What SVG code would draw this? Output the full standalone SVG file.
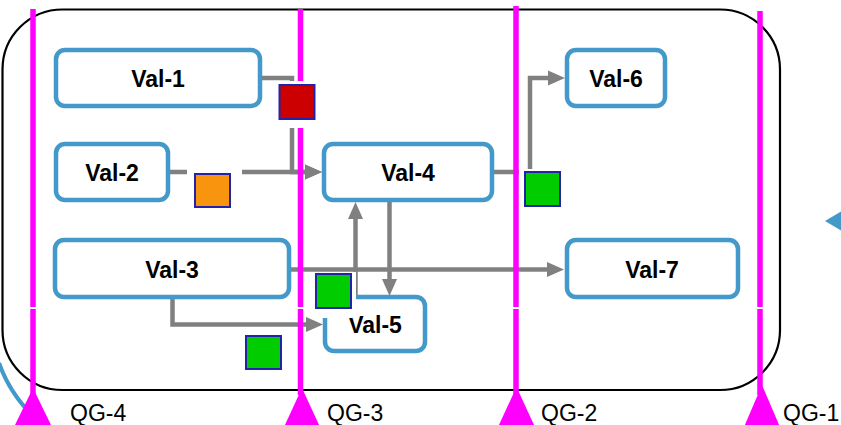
<svg xmlns="http://www.w3.org/2000/svg" width="841" height="425" viewBox="0 0 841 425">
<style>
.node{fill:#fff;stroke:#4399c9;stroke-width:4.5}
.nt{font-family:"Liberation Sans",Arial,sans-serif;font-weight:bold;font-size:23px;fill:#000;text-anchor:middle}
.qt{font-family:"Liberation Sans",Arial,sans-serif;font-size:23px;fill:#000}
.conn{fill:none;stroke:#808080;stroke-width:4.5}
.qg{stroke:#ff00ff;stroke-width:5.5}
.tri{fill:#ff00ff}
.sq{stroke:#2222aa;stroke-width:2}
.wb{fill:#fff}
</style>
<defs>
<marker id="ah" markerUnits="userSpaceOnUse" markerWidth="17" markerHeight="16" viewBox="0 0 17 16" refX="0" refY="8" orient="auto">
<path d="M0,0.5 L17,8 L0,15.5 z" fill="#808080"/>
</marker>
</defs>
<rect x="2.5" y="9.5" width="777.5" height="380.5" rx="60" ry="60" fill="#fff" stroke="#000" stroke-width="2.2"/>
<path d="M-1,363 Q12,400 46,428" fill="none" stroke="#4399c9" stroke-width="4"/>
<polygon points="825,221 845,209 845,233" fill="#4399c9"/>
<g id="connectors">
<path class="conn" d="M262,78 H292 V172 H305" marker-end="url(#ah)"/>
<path class="conn" d="M170,172 H305" marker-end="url(#ah)"/>
<path class="conn" d="M494,172 H530 V78 H548" marker-end="url(#ah)"/>
<path class="conn" d="M291,269.5 H547" marker-end="url(#ah)"/>
<path class="conn" d="M172.5,299 V324.5 H306" marker-end="url(#ah)"/>
<path class="conn" d="M389.5,202 V279" marker-end="url(#ah)"/>
<path class="conn" d="M355.5,297 V219" marker-end="url(#ah)"/>
</g>
<g id="Val-1"><rect class="node" x="56" y="50" width="204" height="56" rx="9"/><text class="nt" x="158" y="87">Val-1</text></g>
<g id="Val-2"><rect class="node" x="56" y="144" width="112" height="56" rx="9"/><text class="nt" x="112" y="181">Val-2</text></g>
<g id="Val-3"><rect class="node" x="55" y="240" width="234" height="57" rx="9"/><text class="nt" x="172" y="278">Val-3</text></g>
<g id="Val-4"><rect class="node" x="324" y="144" width="168" height="56" rx="9"/><text class="nt" x="408" y="181">Val-4</text></g>
<g id="Val-5"><rect class="node" x="325" y="297" width="100" height="54" rx="9"/><text class="nt" x="375" y="333">Val-5</text></g>
<g id="Val-6"><rect class="node" x="567" y="50" width="98" height="56" rx="9"/><text class="nt" x="616" y="87">Val-6</text></g>
<g id="Val-7"><rect class="node" x="567" y="240" width="171" height="57" rx="9"/><text class="nt" x="652" y="278">Val-7</text></g>
<g id="qg-lines">
<line class="qg" x1="33" y1="9" x2="33" y2="307"/><line class="qg" x1="33" y1="309" x2="33" y2="395"/>
<line class="qg" x1="300.5" y1="9" x2="300.5" y2="307"/><line class="qg" x1="300.5" y1="309" x2="300.5" y2="395"/>
<line class="qg" x1="516" y1="6" x2="516" y2="307"/><line class="qg" x1="516" y1="309" x2="516" y2="395"/>
<line class="qg" x1="760" y1="11" x2="760" y2="307"/><line class="qg" x1="760" y1="309" x2="760" y2="395"/>
</g>
<g id="labels">
<rect class="wb" x="273" y="81" width="48" height="47"/>
<rect class="wb" x="187" y="168" width="55" height="42"/>
<rect class="wb" x="309" y="272" width="47" height="46"/>
<rect class="wb" x="519" y="169" width="47" height="42"/>
<rect class="sq" x="279.5" y="85" width="35" height="34" fill="#cc0000"/>
<rect class="sq" x="195" y="174" width="35" height="33" fill="#f8940e"/>
<rect class="sq" x="316" y="274" width="35" height="34" fill="#00cc00"/>
<rect class="sq" x="525" y="172" width="35" height="34" fill="#00cc00"/>
<rect class="sq" x="246" y="336" width="35" height="33" fill="#00cc00"/>
</g>
<g id="qg-markers">
<polygon class="tri" points="33,388 14,427 52,427"/>
<polygon class="tri" points="302,388 284,427 320,427"/>
<polygon class="tri" points="516.5,387 498,427 535,427"/>
<polygon class="tri" points="762,385 744,427 780,427"/>
<text class="qt" x="70" y="421">QG-4</text>
<text class="qt" x="327" y="421">QG-3</text>
<text class="qt" x="541" y="421">QG-2</text>
<text class="qt" x="783" y="421">QG-1</text>
</g>
</svg>
